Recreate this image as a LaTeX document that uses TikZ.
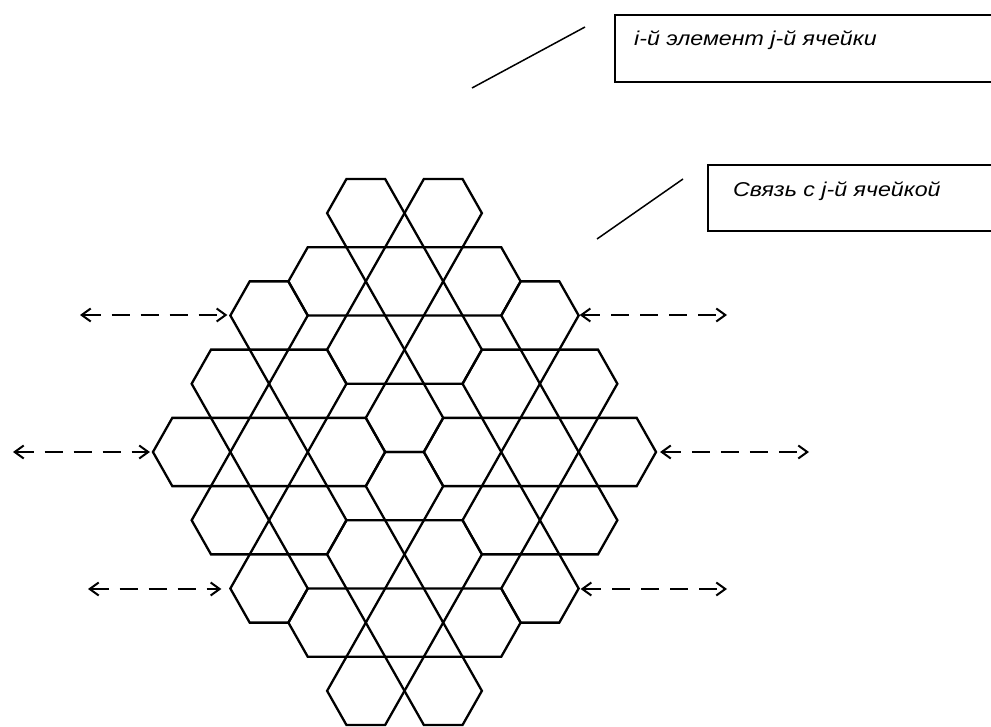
\documentclass[tikz,border=0pt]{standalone}
\usepackage{fontspec}
\newfontfamily\labelfont[FakeStretch=1.16]{Liberation Sans}
\usetikzlibrary{arrows.meta}
\tikzset{
  hexline/.style={line width=2.3pt, line join=miter, black},
  link/.style={line width=2pt, dash pattern=on 18pt off 11pt,
    {Straight Barb[length=9pt,width=13pt]}-{Straight Barb[length=9pt,width=13pt]}},
  leader/.style={line width=1.5pt},
  infobox/.style={draw, line width=1.7pt, anchor=north west, inner sep=0pt},
  infotext/.style={anchor=base west, inner sep=0pt,
    font=\labelfont\itshape\fontsize{20}{24}\selectfont},
}
\begin{document}
\begin{tikzpicture}[x=1pt,y=-1pt]
\useasboundingbox (0,0) rectangle (991,727);
\clip (0,0) rectangle (991,727);

% hexagonal cells: column unit = half a side, row unit = half the height
\begin{scope}[shift={(404.5,452)}, x=19.35pt, y=-34.125pt]
  \foreach \a/\b in {
      -2/-7, 2/-7, -4/-5, 0/-5, 4/-5, -2/-3, 2/-3,
      -2/7, 2/7, -4/5, 0/5, 4/5, -2/3, 2/3,
      -11/0, -7/0, -3/0, -9/-2, -5/-2, -9/2, -5/2,
      11/0, 7/0, 3/0, 9/-2, 5/-2, 9/2, 5/2,
      -7/-4, 7/-4, -7/4, 7/4, 0/-1, 0/1}
    \draw[hexline] (\a-2,\b) -- (\a-1,\b-1) -- (\a+1,\b-1) -- (\a+2,\b)
                   -- (\a+1,\b+1) -- (\a-1,\b+1) -- cycle;
  % outer corners where the links attach
  \coordinate (vUL) at (-9,-4);
  \coordinate (vML) at (-13,0);
  \coordinate (vLL) at (-9,4);
  \coordinate (vUR) at (9,-4);
  \coordinate (vMR) at (13,0);
  \coordinate (vLR) at (9,4);
\end{scope}

% free ends of the links
\coordinate (eUL) at (80,315);
\coordinate (eML) at (13,452);
\coordinate (eLL) at (88,589);
\coordinate (eUR) at (727,315);
\coordinate (eMR) at (809,452);
\coordinate (eLR) at (727,589);

\draw[link, shorten >=3pt] (eUL) -- (eUL -| vUL);
\draw[link, shorten >=3pt] (eML) -- (vML);
\draw[link, shorten >=9pt] (eLL) -- (eLL -| vLL);
\draw[link, shorten <=1pt] (eUR -| vUR) -- (eUR);
\draw[link, shorten <=4pt] (vMR) -- (eMR);
\draw[link, shorten <=2pt] (eLR -| vLR) -- (eLR);

% legend boxes, open towards the right border
\coordinate (l1a) at (472,88);
\coordinate (l1b) at (585,27);
\draw[leader] (l1a) -- (l1b);
\node[infobox, minimum width=400pt, minimum height=67pt] (box1) at (614,14.5) {};
\node[infotext] (t1) at (634,45.5) {i-й элемент j-й ячейки};

\coordinate (l2a) at (597,239);
\coordinate (l2b) at (683,179);
\draw[leader] (l2a) -- (l2b);
\node[infobox, minimum width=300pt, minimum height=65.5pt] (box2) at (707,164.5) {};
\node[infotext] (t2) at (733,197) {Связь с j-й ячейкой};
\end{tikzpicture}
\end{document}
